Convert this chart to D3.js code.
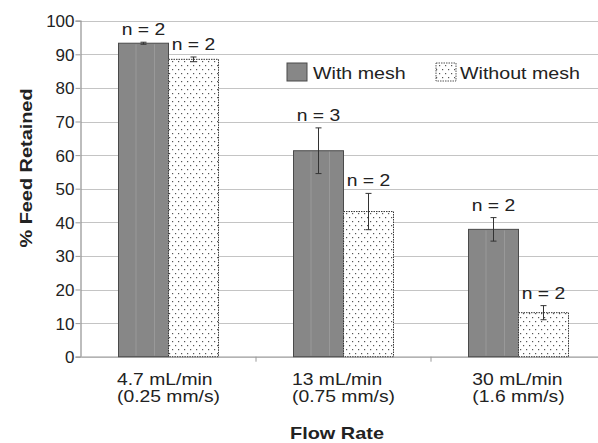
<!DOCTYPE html>
<html>
<head>
<meta charset="utf-8">
<script src="https://cdn.jsdelivr.net/npm/d3@7"></script>
<style>
  body { margin: 0; background: #fff; }
  svg { display: block; font-family: "Liberation Sans", Arial, sans-serif; }
</style>
</head>
<body>
<svg id="chart" width="598" height="443"></svg>
<script>
// data
const categories = [["4.7 mL/min", "(0.25 mm/s)"], ["13 mL/min", "(0.75 mm/s)"], ["30 mL/min", "(1.6 mm/s)"]];
const series = ["With mesh", "Without mesh"];
const withMesh = [93.3, 61.3, 37.9];
const withoutMesh = [88.5, 43.2, 13.1];
const errWith = [0.3, 6.8, 3.5];
const errWithout = [0.7, 5.4, 2.1];
const nWith = [2, 3, 2];
const nWithout = [2, 2, 2];
const yTicks = [0, 10, 20, 30, 40, 50, 60, 70, 80, 90, 100];

const K = 1.17; // the original text is drawn a little wide

const svg = d3.select("#chart");

function stretch(sel, k) {
  k = k || K;
  sel.each(function() {
    const w = this.getComputedTextLength();
    d3.select(this).attr("textLength", w * k).attr("lengthAdjust", "spacingAndGlyphs");
  });
}

const rows = [];
categories.forEach((c, i) => {
  rows.push({ cat: i, s: series[0], v: withMesh[i], e: errWith[i], n: nWith[i] });
  rows.push({ cat: i, s: series[1], v: withoutMesh[i], e: errWithout[i], n: nWithout[i] });
});

const x0 = d3.scaleBand().domain(d3.range(categories.length)).range([81, 606]);
const x1 = d3.scaleBand().domain(series).range([37.5, 137.5]);
const y = d3.scaleLinear().domain([0, 100]).range([356.7, 20.7]);

// pattern for "without mesh"
const defs = svg.append("defs");
const pat = defs.append("pattern")
  .attr("id", "dots")
  .attr("patternUnits", "userSpaceOnUse")
  .attr("width", 6).attr("height", 8);
pat.append("rect").attr("width", 6).attr("height", 8).attr("fill", "#fff");
pat.append("rect").attr("x", 1).attr("y", 1).attr("width", 1.2).attr("height", 1.2).attr("fill", "#555");
pat.append("rect").attr("x", 4).attr("y", 5).attr("width", 1.2).attr("height", 1.2).attr("fill", "#555");

// gridlines
svg.append("g")
  .selectAll("line")
  .data(yTicks.filter(t => t > 0))
  .enter().append("line")
  .attr("x1", 81).attr("x2", 606)
  .attr("y1", d => Math.round(y(d)) + 0.5)
  .attr("y2", d => Math.round(y(d)) + 0.5)
  .attr("stroke", "#c4c4c4").attr("stroke-width", 1.2);

// y axis
const yAxis = svg.append("g")
  .attr("transform", "translate(80.5,0)")
  .call(d3.axisLeft(y).tickValues(yTicks).tickSize(5).tickPadding(1));
yAxis.select(".domain").attr("stroke", "#9a9a9a").attr("stroke-width", 1.3);
yAxis.selectAll(".tick line").attr("stroke", "#9a9a9a");
yAxis.selectAll(".tick text")
  .attr("font-size", 16.5).attr("fill", "#222")
  .attr("font-family", "Liberation Sans, Arial, sans-serif")
  .attr("dy", "0.36em")
  .call(stretch, 1.03);

// x axis line + tick marks at category boundaries
const xAxis = svg.append("g")
  .attr("transform", `translate(0,${y(0)})`)
  .call(d3.axisBottom(x0).tickValues([]).tickSizeOuter(0));
xAxis.select(".domain").attr("stroke", "#9a9a9a").attr("stroke-width", 1.3);
xAxis.selectAll(".bound")
  .data([1, 2])
  .enter().append("line")
  .attr("class", "bound")
  .attr("x1", d => x0(d)).attr("x2", d => x0(d))
  .attr("y1", 0).attr("y2", 5)
  .attr("stroke", "#9a9a9a");

// bars
const bars = svg.append("g");
bars.selectAll("rect")
  .data(rows)
  .enter().append("rect")
  .attr("x", d => x0(d.cat) + x1(d.s))
  .attr("y", d => y(d.v))
  .attr("width", x1.bandwidth())
  .attr("height", d => y(0) - y(d.v))
  .attr("fill", d => d.s === series[0] ? "#878787" : "url(#dots)")
  .attr("stroke", d => d.s === series[0] ? "#4a4a4a" : "#333")
  .attr("stroke-width", 1)
  .attr("stroke-dasharray", d => d.s === series[0] ? null : "1.5,1");

// faint streaks inside the grey bars
[0.35, 0.72].forEach(f => {
  bars.selectAll(null)
    .data(rows.filter(d => d.s === series[0]))
    .enter().append("line")
    .attr("x1", d => x0(d.cat) + x1(d.s) + f * x1.bandwidth())
    .attr("x2", d => x0(d.cat) + x1(d.s) + f * x1.bandwidth())
    .attr("y1", d => y(d.v) + 1).attr("y2", y(0) - 1)
    .attr("stroke", "#999").attr("stroke-width", 1);
});

// error bars
const eb = svg.append("g").attr("stroke", "#333").attr("stroke-width", 1);
const cx = d => x0(d.cat) + x1(d.s) + x1.bandwidth() / 2;
eb.selectAll(".v").data(rows).enter().append("line")
  .attr("x1", cx).attr("x2", cx)
  .attr("y1", d => y(d.v + d.e)).attr("y2", d => y(d.v - d.e));
eb.selectAll(".t").data(rows).enter().append("line")
  .attr("x1", d => cx(d) - 3).attr("x2", d => cx(d) + 3)
  .attr("y1", d => y(d.v + d.e)).attr("y2", d => y(d.v + d.e));
eb.selectAll(".b").data(rows).enter().append("line")
  .attr("x1", d => cx(d) - 3).attr("x2", d => cx(d) + 3)
  .attr("y1", d => y(d.v - d.e)).attr("y2", d => y(d.v - d.e));

// n labels
svg.append("g")
  .selectAll("text")
  .data(rows)
  .enter().append("text")
  .attr("x", cx)
  .attr("y", d => y(d.v + d.e) - 7)
  .attr("text-anchor", "middle")
  .attr("font-size", 16.5).attr("fill", "#222")
  .text(d => "n = " + d.n)
  .call(stretch);

// category labels, lines left-aligned inside a centred block
categories.forEach((lines, i) => {
  const g = svg.append("g");
  const t = g.selectAll("text")
    .data(lines)
    .enter().append("text")
    .attr("y", (d, j) => 385 + j * 16.5)
    .attr("font-size", 16.5).attr("fill", "#222")
    .text(d => d)
    .call(stretch);
  let maxW = 0;
  t.each(function() { maxW = Math.max(maxW, +d3.select(this).attr("textLength")); });
  t.attr("x", x0(i) + x0.bandwidth() / 2 - maxW / 2);
});

// axis titles
svg.append("text")
  .attr("transform", "translate(32,168) rotate(-90)")
  .attr("text-anchor", "middle")
  .attr("font-size", 17).attr("font-weight", "bold").attr("fill", "#222")
  .text("% Feed Retained")
  .call(stretch);

svg.append("text")
  .attr("x", 337).attr("y", 439)
  .attr("text-anchor", "middle")
  .attr("font-size", 17).attr("font-weight", "bold").attr("fill", "#222")
  .text("Flow Rate")
  .call(stretch);

// legend
const legendX = [287, 436];
const legend = svg.append("g");
series.forEach((s, i) => {
  legend.append("rect")
    .attr("x", legendX[i]).attr("y", 63)
    .attr("width", 20).attr("height", 18)
    .attr("fill", i === 0 ? "#878787" : "url(#dots)")
    .attr("stroke", i === 0 ? "#4a4a4a" : "#555")
    .attr("stroke-dasharray", i === 0 ? null : "1.5,1");
  legend.append("text")
    .attr("x", legendX[i] + 26 - (i === 1 ? 2 : 0)).attr("y", 79)
    .attr("font-size", 16.8).attr("fill", "#222")
    .text(s)
    .call(stretch);
});
</script>
</body>
</html>
